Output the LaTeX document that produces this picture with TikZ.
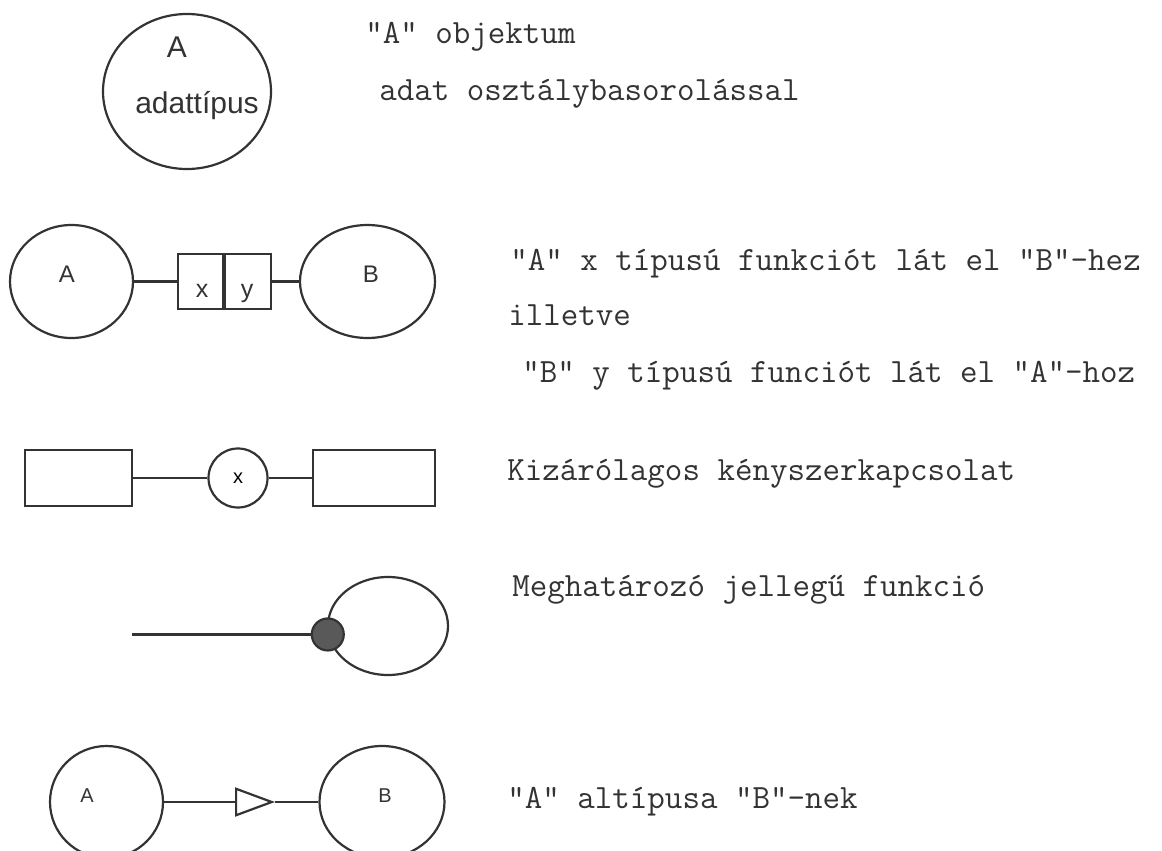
\documentclass[tikz,border=0pt]{standalone}
\usepackage{fontspec}
\newfontfamily\hlv{Liberation Sans}
\usetikzlibrary{shapes.geometric}
\usetikzlibrary{arrows.meta}
\usetikzlibrary{positioning}
\definecolor{ink}{gray}{0.2}
\tikzset{
  obj/.style={ellipse, draw=ink, line width=1.1pt, inner sep=0pt},
  box/.style={rectangle, draw=ink, line width=1.1pt, inner sep=0pt},
  kor/.style={circle, draw=ink, line width=1.1pt, inner sep=0pt},
  lbl/.style={anchor=base, inner sep=0pt, text=ink},
  desc/.style={anchor=base west, inner sep=0pt, text=ink,
    font=\ttfamily\fontsize{17}{20}\selectfont},
  conn/.style={draw=ink, line width=1.1pt},
}

\begin{document}
\begin{tikzpicture}[x=0.5pt,y=-0.5pt]
  \useasboundingbox (0,0) rectangle (1162,851);

  % objektum
  \node[obj, minimum width=84pt, minimum height=77.5pt] (obj1) at (187,91.5) {};
  \node[lbl, font=\hlv\fontsize{15}{18}\selectfont] (obj1A) at (177,57) {A};
  \node[lbl, font=\hlv\fontsize{15}{18}\selectfont] (obj1T) at (197,113) {adattípus};
  \node[desc] (d1a) at (365,43) {"A" objektum};
  \node[desc] (d1b) at (379,100) {adat osztálybasorolással};

  % funkcio
  \node[obj, minimum width=61.5pt, minimum height=56.5pt] (a2) at (71.5,281.5) {};
  \node[obj, minimum width=67.5pt, minimum height=56.5pt] (b2) at (367.5,281.5) {};
  \node[box, minimum width=22.5pt, minimum height=27.5pt] (bx) at (200.5,281.5) {};
  \node[box, minimum width=23pt, minimum height=27.5pt, right=0pt of bx] (by) {};
  \node[lbl, font=\hlv\fontsize{12}{14}\selectfont] (a2l) at (67,282) {A};
  \node[lbl, font=\hlv\fontsize{12}{14}\selectfont] (b2l) at (371,282) {B};
  \node[lbl, font=\hlv\fontsize{12.5}{14}\selectfont] (bxl) at (202,297) {x};
  \node[lbl, font=\hlv\fontsize{12.5}{14}\selectfont] (byl) at (247,297) {y};
  \draw[conn] (a2) -- (bx);
  \draw[conn] (by) -- (b2);
  \node[desc] (d2a) at (510,270) {"A" x típusú funkciót lát el "B"-hez};
  \node[desc] (d2b) at (508,325) {illetve};
  \node[desc] (d2c) at (522,382) {"B" y típusú funciót lát el "A"-hoz};

  % kizarolagos
  \node[box, minimum width=53.5pt, minimum height=28pt] (r1) at (78.5,478) {};
  \node[kor, minimum size=29.5pt, font=\hlv\fontsize{10}{12}\selectfont] (xc) at (238,478) {x};
  \node[box, minimum width=61pt, minimum height=28pt] (r2) at (374,478) {};
  \draw[conn] (r1) -- (xc) -- (r2);
  \node[desc] (d3) at (507,480) {Kizárólagos kényszerkapcsolat};

  % meghatarozo
  \node[obj, minimum width=60pt, minimum height=49pt] (c4) at (388,626) {};
  \node[kor, fill=black!65, minimum size=16pt] (dot4) at (c4.188) {};
  \coordinate (st4) at (132,0);
  \draw[conn] (st4 |- dot4) -- (dot4);
  \node[desc] (d4) at (512,596) {Meghatározó jellegű funkció};

  % altipus
  \node[obj, minimum width=56.5pt, minimum height=56pt] (a5) at (106.5,802) {};
  \node[obj, minimum width=62.5pt, minimum height=56pt] (b5) at (382,802) {};
  \coordinate (tip5) at (275,802);
  \draw[conn, -{Triangle[open, length=20pt, width=14.5pt]}] (a5) -- (tip5);
  \draw[conn] (tip5) -- (b5);
  \node[lbl, font=\hlv\fontsize{10}{12}\selectfont] (a5l) at (87,802) {A};
  \node[lbl, font=\hlv\fontsize{10}{12}\selectfont] (b5l) at (385,802) {B};
  \node[desc] (d5) at (507,808) {"A" altípusa "B"-nek};
\end{tikzpicture}
\end{document}
